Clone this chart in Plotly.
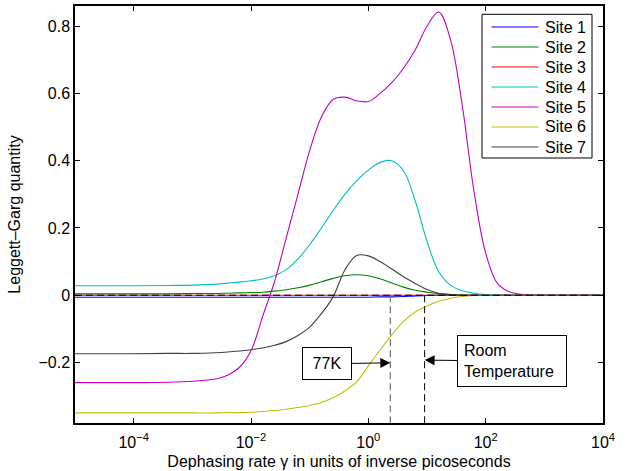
import numpy as np
import plotly.graph_objects as go

# ---- data: log10 of dephasing rate gamma (1/ps) and Leggett-Garg quantity per site ----
grid_exp = [-5, -4, -3.4, -3.0, -2.6, -2.4, -2.2, -2.0, -1.8, -1.6, -1.4, -1.2, -1.0, -0.8, -0.6,
            -0.4, -0.2, 0.0, 0.2, 0.4, 0.6, 0.8, 1.0, 1.2, 1.4, 1.6, 1.8, 2.0, 2.2, 2.4, 2.6, 3.0, 4.0]

site1_val = [-0.006, -0.006, -0.006, -0.006, -0.006, -0.006, -0.006, -0.006, -0.006, -0.006, -0.006,
             -0.006, -0.006, -0.006, -0.006, -0.006, -0.006, -0.006, -0.005, -0.005, -0.004, -0.002,
             -0.001, 0.0, 0.0, 0.0, 0.0, 0.0, 0.0, 0.0, 0.0, 0.0, 0.0]
site2_val = [0.004, 0.004, 0.004, 0.005, 0.005, 0.006, 0.007, 0.008, 0.009, 0.012, 0.016, 0.022,
             0.030, 0.040, 0.050, 0.058, 0.061, 0.058, 0.049, 0.036, 0.024, 0.015, 0.009, 0.004,
             0.002, 0.0, 0.0, 0.0, 0.0, 0.0, 0.0, 0.0, 0.0]
site3_val = [0.0, 0.0, 0.0, 0.0, 0.0, 0.0, 0.0, 0.0, 0.0, 0.0, 0.0, 0.0, 0.0, 0.0, 0.0, 0.0, 0.0,
             0.0, 0.0, 0.0, 0.0, 0.0, 0.0, 0.0, 0.0, 0.0, 0.0, 0.0, 0.0, 0.0, 0.0, 0.0, 0.0]
site4_val = [0.028, 0.028, 0.029, 0.030, 0.033, 0.036, 0.039, 0.043, 0.048, 0.058, 0.076, 0.108,
             0.150, 0.200, 0.252, 0.300, 0.340, 0.372, 0.395, 0.400, 0.370, 0.280, 0.160, 0.070,
             0.030, 0.013, 0.006, 0.002, 0.0, 0.0, 0.0, 0.0, 0.0]
site5_val = [-0.260, -0.260, -0.259, -0.256, -0.249, -0.238, -0.215, -0.165, -0.062, 0.040, 0.170,
             0.300, 0.430, 0.530, 0.582, 0.589, 0.578, 0.576, 0.600, 0.632, 0.675, 0.730, 0.800,
             0.842, 0.760, 0.565, 0.310, 0.125, 0.035, 0.010, 0.003, 0.0, 0.0]
site6_val = [-0.350, -0.350, -0.350, -0.350, -0.350, -0.349, -0.349, -0.348, -0.346, -0.343, -0.339,
             -0.334, -0.328, -0.319, -0.305, -0.285, -0.258, -0.210, -0.163, -0.118, -0.078, -0.050,
             -0.032, -0.018, -0.009, -0.004, -0.001, 0.0, 0.0, 0.0, 0.0, 0.0, 0.0]
site7_val = [-0.174, -0.174, -0.173, -0.173, -0.171, -0.169, -0.166, -0.162, -0.157, -0.149, -0.138,
             -0.120, -0.095, -0.055, -0.005, 0.075, 0.118, 0.117, 0.100, 0.078, 0.055, 0.035,
             0.017, 0.006, 0.002, 0.0, 0.0, 0.0, 0.0, 0.0, 0.0, 0.0, 0.0]

site_names = ["Site 1", "Site 2", "Site 3", "Site 4", "Site 5", "Site 6", "Site 7"]
site_colors = ["#0000FF", "#008000", "#FF0000", "#00BFBF", "#BF00BF", "#BFBF00", "#404040"]

gamma_77K = 2.37     # dephasing rate at 77 K
gamma_room = 9.1     # dephasing rate at room temperature

x_range_exp = [-5, 4]
y_range = [-0.38, 0.86]
x_tick_exp = [-4, -2, 0, 2, 4]
y_ticks = [-0.2, 0, 0.2, 0.4, 0.6, 0.8]
y_tick_text = ["\u22120.2", "0", "0.2", "0.4", "0.6", "0.8"]

series = [site1_val, site2_val, site3_val, site4_val, site5_val, site6_val, site7_val]

FONT = "Liberation Sans, Arial, Helvetica, sans-serif"
W, H = 638, 471
ML, MR, MT, MB = 75, 35, 6, 48
PW, PH = W - ML - MR, H - MT - MB


def px_x(px):
    return (px - ML) / PW


def px_y(py):
    return (H - MB - py) / PH


gamma = 10.0 ** np.array(grid_exp)

fig = go.Figure()
for val, name, col in zip(series, site_names, site_colors):
    fig.add_trace(go.Scatter(
        x=gamma, y=val, mode="lines", name=name, showlegend=False,
        line=dict(color=col, width=1.1, shape="spline", smoothing=1.0)))

# zero reference line and temperature markers
fig.add_shape(type="line", xref="paper", yref="y", x0=0, x1=1, y0=0, y1=0,
              line=dict(color="black", width=1, dash="7px,4px"))
fig.add_shape(type="line", xref="x", yref="y", x0=gamma_77K, x1=gamma_77K, y0=0, y1=y_range[0],
              line=dict(color="#707070", width=1.2, dash="7px,4px"))
fig.add_shape(type="line", xref="x", yref="y", x0=gamma_room, x1=gamma_room, y0=0, y1=y_range[0],
              line=dict(color="black", width=1, dash="7px,4px"))

fig.add_annotation(x=np.log10(gamma_77K), y=-0.201, xref="x", yref="y",
                   text="77K", showarrow=True, ax=-63, ay=1, axref="pixel", ayref="pixel",
                   arrowhead=2, arrowsize=2.0, arrowwidth=1, arrowcolor="black",
                   bordercolor="black", borderwidth=1, borderpad=6, bgcolor="white",
                   width=36, height=19, font=dict(size=16, color="black", family=FONT))
fig.add_annotation(x=np.log10(gamma_room), y=-0.193, xref="x", yref="y",
                   text="Room<br>Temperature", showarrow=True, ax=87, ay=1,
                   axref="pixel", ayref="pixel", align="left",
                   arrowhead=2, arrowsize=2.0, arrowwidth=1, arrowcolor="black",
                   bordercolor="black", borderwidth=1, borderpad=6, bgcolor="white",
                   width=96, font=dict(size=16, color="black", family=FONT))

# legend box (MATLAB style)
fig.add_shape(type="rect", xref="paper", yref="paper",
              x0=px_x(482), x1=px_x(592), y0=px_y(158), y1=px_y(14.3),
              line=dict(color="black", width=1), fillcolor="white", layer="above")
for i, (name, col) in enumerate(zip(site_names, site_colors)):
    yc = 27 + 20 * i
    fig.add_shape(type="line", xref="paper", yref="paper",
                  x0=px_x(491.5), x1=px_x(538.5), y0=px_y(yc), y1=px_y(yc),
                  line=dict(color=col, width=1.1), layer="above")
    fig.add_annotation(xref="paper", yref="paper", x=px_x(543), y=px_y(yc),
                       xanchor="left", yanchor="middle", text=name, showarrow=False,
                       font=dict(size=16, color="black", family=FONT))

fig.update_layout(
    width=W, height=H,
    margin=dict(l=ML, r=MR, t=MT, b=MB, autoexpand=False),
    paper_bgcolor="white", plot_bgcolor="white",
    font=dict(family=FONT, size=16, color="black"),
    showlegend=False,
)
fig.update_xaxes(type="log", range=x_range_exp, automargin=False,
                 tickvals=[10.0 ** e for e in x_tick_exp],
                 ticktext=["10<sup>" + str(e).replace("-", "\u2212") + "</sup>" for e in x_tick_exp],
                 ticks="inside", ticklen=5, tickcolor="black", mirror="ticks",
                 showline=True, linecolor="black", linewidth=1.5,
                 showgrid=False, zeroline=False, tickfont=dict(size=16),
                 ticklabelstandoff=4,
                 title=dict(text="Dephasing rate \u03b3 in units of inverse picoseconds",
                            font=dict(size=16), standoff=6))
fig.update_yaxes(range=y_range, tickvals=y_ticks, ticktext=y_tick_text, automargin=False,
                 ticks="inside", ticklen=5, tickcolor="black", mirror="ticks",
                 showline=True, linecolor="black", linewidth=1.5,
                 showgrid=False, zeroline=False, tickfont=dict(size=16),
                 title=dict(text="Leggett\u2013Garg quantity", font=dict(size=16), standoff=14))

fig.write_html("out.html")
